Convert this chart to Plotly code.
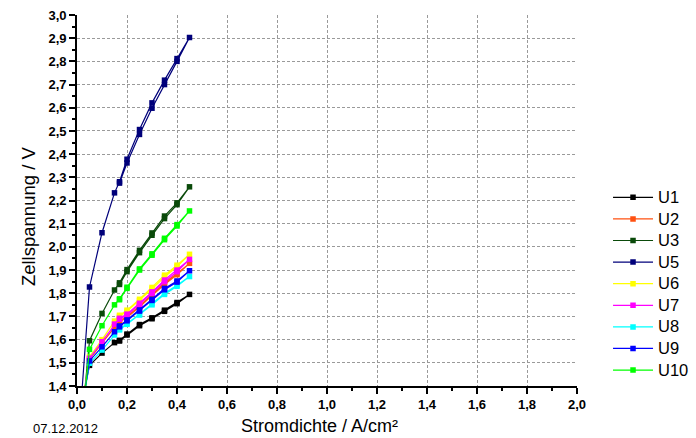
import plotly.graph_objects as go

# ---- data ----
x_up = [0.02, 0.05, 0.10, 0.15, 0.17, 0.20, 0.25, 0.30, 0.35, 0.40, 0.45]
x_down = [0.40, 0.35, 0.30, 0.25, 0.20, 0.17]

names = ["U1", "U2", "U3", "U5", "U6", "U7", "U8", "U9", "U10"]
colors = ["#000000", "#FF5010", "#0A4A0A", "#00007A", "#FFFF00",
          "#FF00FF", "#00FFFF", "#0000FF", "#00FF00"]

U1_up = [1.33, 1.489, 1.542, 1.587, 1.597, 1.624, 1.665, 1.694, 1.727, 1.760, 1.795]
U1_down = [1.755, 1.722, 1.690, 1.660, 1.620, 1.594]
U2_up = [1.30, 1.515, 1.585, 1.655, 1.680, 1.700, 1.745, 1.795, 1.845, 1.885, 1.929]
U2_down = [1.880, 1.838, 1.790, 1.740, 1.695, 1.676]
U3_up = [1.25, 1.595, 1.713, 1.814, 1.845, 1.902, 1.985, 2.060, 2.133, 2.190, 2.259]
U3_down = [2.182, 2.122, 2.050, 1.975, 1.893, 1.838]
U5_up = [1.38, 1.827, 2.061, 2.233, 2.281, 2.378, 2.506, 2.621, 2.719, 2.812, 2.903]
U5_down = [2.800, 2.700, 2.598, 2.485, 2.362, 2.275]
U6_up = [1.30, 1.525, 1.600, 1.680, 1.705, 1.727, 1.774, 1.825, 1.878, 1.921, 1.968]
U6_down = [1.914, 1.870, 1.818, 1.768, 1.722, 1.700]
U7_up = [1.30, 1.520, 1.591, 1.667, 1.692, 1.710, 1.757, 1.806, 1.857, 1.900, 1.946]
U7_down = [1.893, 1.850, 1.800, 1.751, 1.705, 1.688]
U8_up = [1.30, 1.498, 1.555, 1.620, 1.645, 1.670, 1.710, 1.755, 1.800, 1.835, 1.872]
U8_down = [1.830, 1.795, 1.750, 1.706, 1.666, 1.642]
U9_up = [1.30, 1.508, 1.569, 1.634, 1.659, 1.685, 1.728, 1.774, 1.821, 1.853, 1.897]
U9_down = [1.848, 1.815, 1.769, 1.723, 1.681, 1.655]
U10_up = [1.25, 1.558, 1.660, 1.750, 1.776, 1.826, 1.905, 1.970, 2.037, 2.096, 2.155]
U10_down = [2.090, 2.031, 1.964, 1.900, 1.821, 1.772]

series = [(U1_up, U1_down), (U2_up, U2_down), (U3_up, U3_down), (U5_up, U5_down),
          (U6_up, U6_down), (U7_up, U7_down), (U8_up, U8_down), (U9_up, U9_down),
          (U10_up, U10_down)]

x_ticks = [0.0, 0.2, 0.4, 0.6, 0.8, 1.0, 1.2, 1.4, 1.6, 1.8, 2.0]
y_ticks = [1.4, 1.5, 1.6, 1.7, 1.8, 1.9, 2.0, 2.1, 2.2, 2.3, 2.4, 2.5,
           2.6, 2.7, 2.8, 2.9, 3.0]

FONT = "Liberation Sans, Arial, sans-serif"

fig = go.Figure()
for name, col, (up, down) in zip(names, colors, series):
    fig.add_trace(go.Scatter(
        x=x_up + x_down, y=up + down,
        name='<span style="font-size:16.5px">' + name + '</span>',
        mode="lines+markers",
        line=dict(color=col, width=1.2),
        marker=dict(symbol="square", size=5.5, color=col, line=dict(width=0)),
    ))

# empty trace for the overlay grid axes
fig.add_trace(go.Scatter(x=[], y=[], xaxis="x2", yaxis="y2",
                         showlegend=False, hoverinfo="skip"))

axis_common = dict(
    showline=True, linecolor="black", linewidth=1.6,
    ticks="outside", ticklen=6, tickwidth=1.5, tickcolor="black",
    showgrid=False, zeroline=False,
    tickfont=dict(family=FONT, size=13, color="black", weight="bold"),
)

fig.update_layout(
    width=696, height=438,
    margin=dict(l=77, r=119, t=15, b=52, autoexpand=False),
    paper_bgcolor="white", plot_bgcolor="white",
    separators=",.",
    font=dict(family=FONT, color="black"),
    xaxis=dict(range=[0, 2.0], tickmode="array", tickvals=x_ticks,
               tickformat=".1f",
               minor=dict(dtick=0.1, ticks="outside", ticklen=3,
                          tickwidth=1.5, tickcolor="black", showgrid=False),
               **axis_common),
    yaxis=dict(range=[1.4, 3.0], tickmode="array", tickvals=y_ticks,
               tickformat=".1f",
               minor=dict(dtick=0.05, tick0=1.4, ticks="outside", ticklen=3,
                          tickwidth=1.5, tickcolor="black", showgrid=False),
               **axis_common),
    xaxis2=dict(overlaying="x", anchor="y", range=[0, 2.0], tickmode="array",
                tickvals=x_ticks[1:-1], showticklabels=False, ticks="",
                showline=False, zeroline=False, showgrid=True,
                gridcolor="#9A9A9A", griddash="3px,2px", gridwidth=1),
    yaxis2=dict(overlaying="y", anchor="x", range=[1.4, 3.0], tickmode="array",
                tickvals=y_ticks[1:-1], showticklabels=False, ticks="",
                showline=False, zeroline=False, showgrid=True,
                gridcolor="#9A9A9A", griddash="3px,2px", gridwidth=1),
    legend=dict(xref="container", yref="container",
                x=0.8736, xanchor="left", y=0.3515, yanchor="middle",
                font=dict(family=FONT, size=14.3, color="black"),
                itemwidth=40,
                bgcolor="rgba(0,0,0,0)", borderwidth=0, tracegroupgap=0),
    showlegend=True,
)

# axis titles (placed as in the reference)
fig.add_annotation(text="Stromdichte / A/cm²", xref="paper", yref="paper",
                   x=0.484, y=-0.1078, xanchor="center", yanchor="middle",
                   showarrow=False, font=dict(family=FONT, size=18, color="black"))
fig.add_annotation(text="Zellspannung / V", xref="paper", yref="paper",
                   x=-0.098, y=0.458, xanchor="center", yanchor="middle",
                   textangle=-90, showarrow=False,
                   font=dict(family=FONT, size=18.5, color="black"))

fig.add_annotation(text="07.12.2012", xref="paper", yref="paper",
                   x=-0.092, y=-0.1159, xanchor="left", yanchor="middle",
                   showarrow=False, font=dict(family=FONT, size=13, color="black"))

fig.write_html("out.html")
